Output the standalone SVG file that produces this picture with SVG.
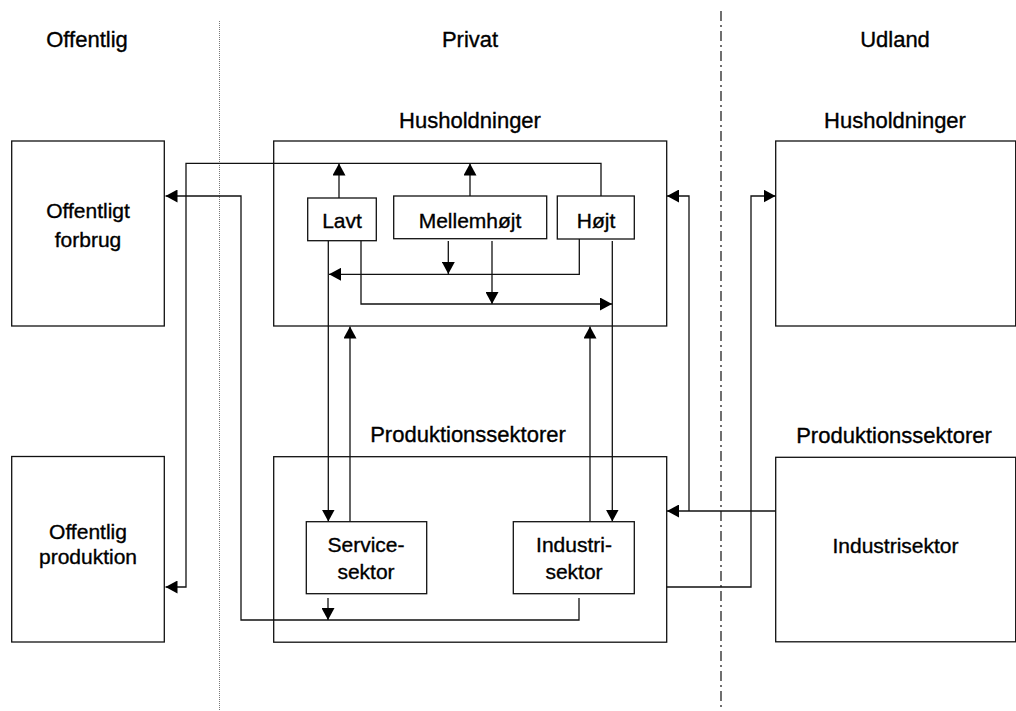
<svg xmlns="http://www.w3.org/2000/svg" width="1016" height="711" viewBox="0 0 1016 711">
<style>
.box{fill:#fff;stroke:#111;stroke-width:1.3}
.h{font-family:"Liberation Sans",Arial,sans-serif;font-size:22px;fill:#000;stroke:#000;stroke-width:0.35;text-anchor:middle}
.t{font-family:"Liberation Sans",Arial,sans-serif;font-size:21px;fill:#000;stroke:#000;stroke-width:0.35;text-anchor:middle}
.c{fill:none;stroke:#111;stroke-width:1.3}
</style>
<defs>
<marker id="ah" markerUnits="userSpaceOnUse" markerWidth="12" markerHeight="13" refX="12" refY="6.5" orient="auto">
<path d="M0,0 L12,6.5 L0,13 z" fill="#000"/>
</marker>
</defs>
<rect width="1016" height="711" fill="#fff"/>
<g id="separators">
<line x1="219.5" y1="21" x2="219.5" y2="711" stroke="#777" stroke-width="1" stroke-dasharray="1,1"/>
<line x1="721" y1="11" x2="721" y2="711" stroke="#111" stroke-width="1.2" stroke-dasharray="10,4,2,4"/>
</g>
<g id="headings">
<text class="h" x="87" y="47">Offentlig</text>
<text class="h" x="470" y="47">Privat</text>
<text class="h" x="895" y="47">Udland</text>
<text class="h" x="470" y="128">Husholdninger</text>
<text class="h" x="895" y="128">Husholdninger</text>
<text class="h" x="468" y="442">Produktionssektorer</text>
<text class="h" x="894" y="443">Produktionssektorer</text>
</g>
<g id="offentligt-forbrug">
<rect class="box" x="11.7" y="141" width="152.6" height="185"/>
<text class="t" x="88" y="218">Offentligt</text>
<text class="t" x="88" y="246.5">forbrug</text>
</g>
<g id="offentlig-produktion">
<rect class="box" x="11.7" y="456.5" width="152.6" height="185.5"/>
<text class="t" x="88" y="539">Offentlig</text>
<text class="t" x="88" y="563.5">produktion</text>
</g>
<g id="husholdninger">
<rect class="box" x="273.7" y="141" width="393" height="185"/>
</g>
<g id="produktionssektorer">
<rect class="box" x="273.7" y="456.7" width="393" height="185.5"/>
</g>
<g id="udland-husholdninger">
<rect class="box" x="775.7" y="141" width="240" height="185"/>
</g>
<g id="udland-produktion">
<rect class="box" x="775.7" y="457.3" width="240" height="184.5"/>
<text class="t" x="895.5" y="553">Industrisektor</text>
</g>
<g id="connectors">
<path class="c" d="M601,196 V163.3 H186 V587 H165.5" marker-end="url(#ah)"/>
<path class="c" d="M339,198 V163.5" marker-end="url(#ah)"/>
<path class="c" d="M470,196 V163.5" marker-end="url(#ah)"/>
<path class="c" d="M579,598 V620 H241 V196 H165.5" marker-end="url(#ah)"/>
<path class="c" d="M328,598 V620" marker-end="url(#ah)"/>
<path class="c" d="M328.3,241 V521.5" marker-end="url(#ah)"/>
<path class="c" d="M361,241 V304 H612" marker-end="url(#ah)"/>
<path class="c" d="M579.3,239 V274.3 H329" marker-end="url(#ah)"/>
<path class="c" d="M448.3,241 V274" marker-end="url(#ah)"/>
<path class="c" d="M492,241 V304" marker-end="url(#ah)"/>
<path class="c" d="M612.3,241 V521.5" marker-end="url(#ah)"/>
<path class="c" d="M350,522 V326.5" marker-end="url(#ah)"/>
<path class="c" d="M590,522 V326.5" marker-end="url(#ah)"/>
<path class="c" d="M775.7,511 H667" marker-end="url(#ah)"/>
<path class="c" d="M689,511 V196 H667" marker-end="url(#ah)"/>
<path class="c" d="M666.7,587 H751 V196 H775.5" marker-end="url(#ah)"/>
</g>
<g id="lavt">
<rect class="box" x="307.7" y="198" width="68.6" height="42.7"/>
<text class="t" x="342" y="228">Lavt</text>
</g>
<g id="mellemhojt">
<rect class="box" x="393.7" y="196" width="153" height="42.7"/>
<text class="t" x="470" y="228">Mellemhøjt</text>
</g>
<g id="hojt">
<rect class="box" x="557.3" y="196" width="77" height="43"/>
<text class="t" x="596" y="228">Højt</text>
</g>
<g id="servicesektor">
<rect class="box" x="306.3" y="521.7" width="120.4" height="72"/>
<text class="t" x="366" y="551.5">Service-</text>
<text class="t" x="366" y="579">sektor</text>
</g>
<g id="industrisektor">
<rect class="box" x="513.3" y="521.7" width="121" height="72"/>
<text class="t" x="574" y="551.5">Industri-</text>
<text class="t" x="574" y="579">sektor</text>
</g>
</svg>
